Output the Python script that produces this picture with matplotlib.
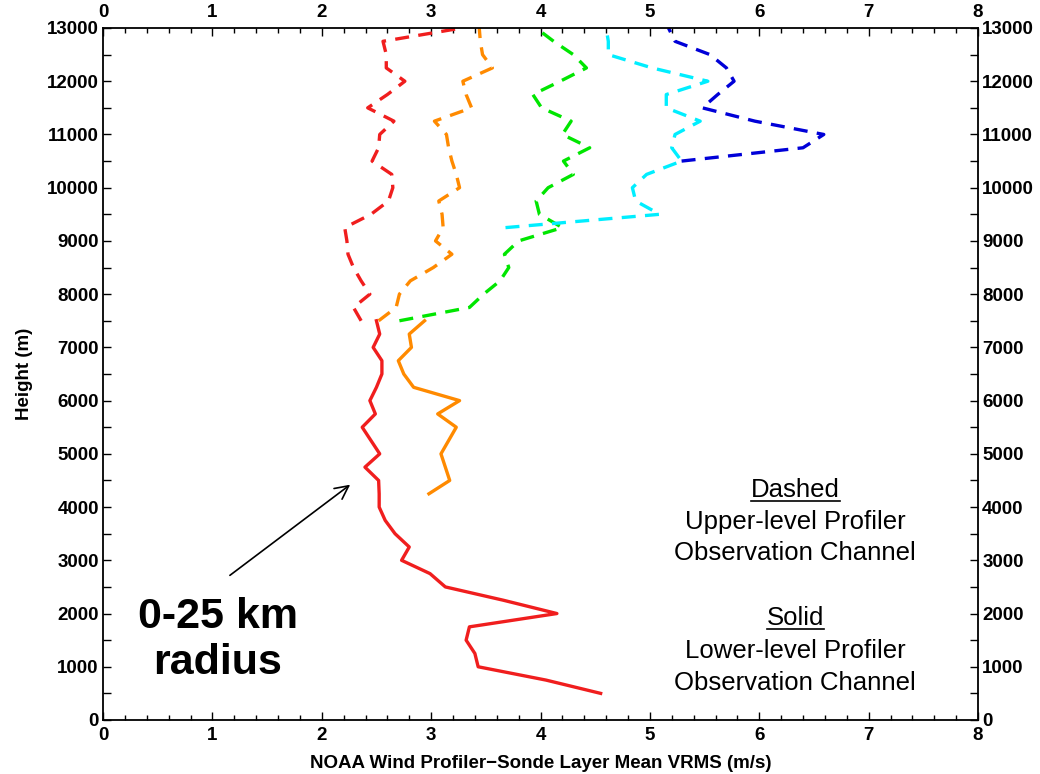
import matplotlib
matplotlib.use("Agg")
import matplotlib.pyplot as plt
from matplotlib.lines import Line2D
from matplotlib.ticker import MultipleLocator

plt.rcParams['font.family'] = ['Liberation Sans', 'DejaVu Sans']

# ---- data ----
heights_lower = [500, 750, 1000, 1250, 1500, 1750, 2000, 2250, 2500, 2750, 3000, 3250, 3500, 3750,
                 4000, 4250, 4500, 4750, 5000, 5250, 5500, 5750, 6000, 6250, 6500, 6750, 7000, 7250, 7500]
red_solid = [4.55, 4.05, 3.43, 3.40, 3.32, 3.35, 4.15, 3.66, 3.13, 2.99, 2.73, 2.80, 2.67, 2.58,
             2.525, 2.525, 2.52, 2.395, 2.53, 2.45, 2.37, 2.49, 2.44, 2.50, 2.55, 2.55, 2.47, 2.53, 2.50]

heights_orange_solid = [4250, 4500, 4750, 5000, 5250, 5500, 5750, 6000, 6250, 6500, 6750, 7000, 7250, 7500]
orange_solid = [2.98, 3.17, 3.13, 3.09, 3.16, 3.23, 3.06, 3.26, 2.84, 2.75, 2.70, 2.82, 2.80, 2.94]

heights_upper = [7500, 7750, 8000, 8250, 8500, 8750, 9000, 9250, 9500, 9750, 10000, 10250,
                 10500, 10750, 11000, 11250, 11500, 11750, 12000, 12250, 12500, 12750, 13000]
red_dashed = [2.36, 2.29, 2.44, 2.36, 2.29, 2.24, 2.23, 2.21, 2.45, 2.61, 2.65, 2.64,
              2.46, 2.52, 2.53, 2.66, 2.42, 2.60, 2.76, 2.59, 2.59, 2.56, 3.28]
orange_dashed = [2.52, 2.68, 2.71, 2.81, 3.02, 3.19, 3.04, 3.11, 3.10, 3.07, 3.26, 3.23,
                 3.19, 3.16, 3.14, 3.03, 3.37, 3.32, 3.29, 3.56, 3.47, 3.45, 3.44]
green_dashed = [2.71, 3.35, 3.48, 3.63, 3.71, 3.67, 3.80, 4.20, 3.99, 3.96, 4.07, 4.30,
                4.21, 4.45, 4.20, 4.28, 4.01, 3.93, 4.18, 4.42, 4.30, 4.12, 3.96]

heights_cyan = [9250, 9500, 9750, 10000, 10250, 10500, 10750, 11000, 11250, 11500, 11750,
                12000, 12250, 12500, 12750, 13000]
cyan_dashed = [3.68, 5.09, 4.87, 4.84, 4.97, 5.29, 5.20, 5.23, 5.46, 5.15, 5.15,
               5.53, 5.02, 4.62, 4.62, 4.60]

heights_blue = [10500, 10750, 11000, 11250, 11500, 11750, 12000, 12250, 12500, 12750, 13000]
blue_dashed = [5.29, 6.40, 6.59, 5.96, 5.48, 5.62, 5.77, 5.70, 5.55, 5.23, 5.17]

x_ticks = [0, 1, 2, 3, 4, 5, 6, 7, 8]
y_ticks = list(range(0, 13001, 1000))

RED = '#f01e1e'
ORANGE = '#ff8a00'
GREEN = '#00e600'
CYAN = '#00eeff'
BLUE = '#0000d8'

fig = plt.figure(figsize=(10.4, 7.74), dpi=100)
ax = fig.add_axes([103 / 1040, 1 - 720 / 774, (978 - 103) / 1040, (720 - 28) / 774])

lw = 2.4
dash = (0, (4.2, 2.8))
ax.plot(red_solid, heights_lower, color=RED, lw=lw)
ax.plot(orange_solid, heights_orange_solid, color=ORANGE, lw=lw)
ax.plot(red_dashed, heights_upper, color=RED, lw=lw, linestyle=dash)
ax.plot(orange_dashed, heights_upper, color=ORANGE, lw=lw, linestyle=dash)
ax.plot(green_dashed, heights_upper, color=GREEN, lw=lw, linestyle=dash)
ax.plot(cyan_dashed, heights_cyan, color=CYAN, lw=lw, linestyle=dash)
ax.plot(blue_dashed, heights_blue, color=BLUE, lw=lw, linestyle=dash)

ax.set_xlim(0, 8)
ax.set_ylim(0, 13000)
ax.set_xticks(x_ticks)
ax.set_yticks(y_ticks)
ax.xaxis.set_minor_locator(MultipleLocator(0.2))
ax.yaxis.set_minor_locator(MultipleLocator(500))
ax.tick_params(axis='both', which='both', direction='in', top=True, right=True,
               labeltop=True, labelright=True, width=1.0, colors='black')
ax.tick_params(axis='both', which='major', length=6, labelsize=13.5, pad=3)
ax.tick_params(axis='x', which='major', pad=5)
ax.tick_params(axis='x', which='minor', length=3.5)
ax.tick_params(axis='y', which='minor', length=6)
for t in ax.xaxis.get_major_ticks() + ax.yaxis.get_major_ticks():
    t.label1.set_fontweight('bold')
    t.label2.set_fontweight('bold')
for sp in ax.spines.values():
    sp.set_linewidth(1.3)

ax.set_xlabel('NOAA Wind Profiler\u2212Sonde Layer Mean VRMS (m/s)', fontsize=13.5,
              fontweight='bold', labelpad=8)
ax.set_ylabel('Height (m)', fontsize=13.5, fontweight='bold', labelpad=10)

# annotation
ax.annotate('', xy=(2.28, 4452), xytext=(1.14, 2686),
            arrowprops=dict(arrowstyle='->', color='black', lw=1.2, mutation_scale=24))
ax.text(1.05, 1500, '0-25 km\nradius', fontsize=31, fontweight='bold', ha='center',
        va='center', linespacing=1.2)

legend_x = 6.33
t_dashed = ax.text(legend_x, 4320, 'Dashed', fontsize=18.5, ha='center', va='center')
ax.text(legend_x, 3720, 'Upper-level Profiler', fontsize=18.5, ha='center', va='center')
ax.text(legend_x, 3137, 'Observation Channel', fontsize=18.5, ha='center', va='center')
t_solid = ax.text(legend_x, 1916, 'Solid', fontsize=18.5, ha='center', va='center')
ax.text(legend_x, 1296, 'Lower-level Profiler', fontsize=18.5, ha='center', va='center')
ax.text(legend_x, 695, 'Observation Channel', fontsize=18.5, ha='center', va='center')

fig.canvas.draw()
renderer = fig.canvas.get_renderer()
W, H = fig.get_size_inches() * fig.dpi
for t in (t_dashed, t_solid):
    bb = t.get_window_extent(renderer)
    yline = bb.y0 + 1
    fig.add_artist(Line2D([bb.x0 / W, bb.x1 / W], [yline / H, yline / H],
                          transform=fig.transFigure, color='black', lw=1.2))

fig.savefig('out.png', dpi=100)
